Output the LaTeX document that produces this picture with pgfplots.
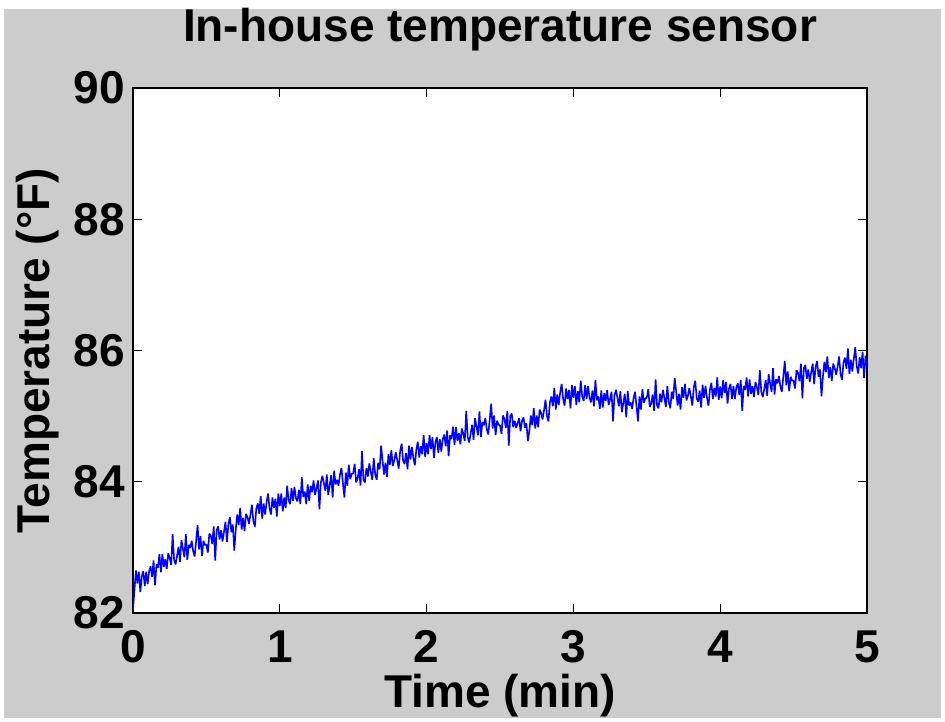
\documentclass[border=0pt]{standalone}
\usepackage{fontspec}
\setmainfont{Liberation Sans}
\usepackage{pgfplots}
\pgfplotsset{compat=1.18}
\definecolor{figgray}{RGB}{204,204,204}
\begin{document}
\begin{tikzpicture}
\fill[white] (-133pt,-109pt) rectangle (812pt,613pt);
\fill[figgray] (-129pt,-105pt) rectangle (808pt,604pt);
\begin{axis}[
  width=734pt, height=525pt, scale only axis,
  xmin=0, xmax=5, ymin=82, ymax=90,
  xtick={0,1,2,3,4,5}, ytick={82,84,86,88,90},
  tick align=inside, major tick length=9pt,
  tick style={black, line width=1pt},
  axis line style={black, line width=1.2pt},
  axis background/.style={fill=white},
  /pgf/number format/assume math mode=true,
  ticklabel style={font=\fontsize{46}{50}\selectfont\bfseries},
  xticklabel style={anchor=base, yshift=-50pt},
  yticklabel style={anchor=east, inner sep=0pt, xshift=-8pt},
  title={In-house temperature sensor},
  title style={at={(axis description cs:0.5,1)}, anchor=base, yshift=40pt, font=\fontsize{46}{50}\selectfont\bfseries},
  xlabel={Time (min)},
  xlabel style={at={(axis description cs:0.5,0)}, anchor=base, yshift=-95pt, font=\fontsize{46}{50}\selectfont\bfseries},
  ylabel={Temperature (°F)},
  ylabel style={at={(axis description cs:-0.1131,0.5)}, anchor=base, font=\fontsize{46}{50}\selectfont\bfseries},
]
\addplot[blue, line width=1.6pt, line join=miter, miter limit=2] coordinates {
(0.00,82.05) (0.01,82.35) (0.02,82.65) (0.03,82.45) (0.04,82.63) (0.05,82.32) (0.06,82.56) (0.07,82.64) (0.08,82.41) (0.09,82.63)
(0.10,82.44) (0.11,82.64) (0.12,82.71) (0.13,82.55) (0.14,82.80) (0.15,82.42) (0.16,82.74) (0.17,82.69) (0.18,82.90) (0.19,82.62)
(0.20,82.90) (0.21,82.70) (0.22,82.82) (0.23,82.67) (0.24,82.91) (0.25,82.84) (0.26,82.73) (0.27,83.20) (0.28,82.81) (0.29,82.74)
(0.30,82.87) (0.31,83.01) (0.32,82.78) (0.33,83.11) (0.34,82.98) (0.35,82.85) (0.36,83.20) (0.37,82.81) (0.38,83.04) (0.39,82.99)
(0.40,83.10) (0.41,82.94) (0.42,82.86) (0.43,83.10) (0.44,83.34) (0.45,82.97) (0.46,83.17) (0.47,82.87) (0.48,83.10) (0.49,83.04)
(0.50,83.04) (0.51,82.92) (0.52,83.21) (0.53,83.18) (0.54,83.05) (0.55,83.32) (0.56,82.80) (0.57,83.26) (0.58,83.32) (0.59,83.12)
(0.60,83.26) (0.61,83.09) (0.62,83.24) (0.63,83.39) (0.64,83.08) (0.65,83.36) (0.66,83.46) (0.67,83.23) (0.68,83.35) (0.69,82.95)
(0.70,83.27) (0.71,83.50) (0.72,83.34) (0.73,83.60) (0.74,83.27) (0.75,83.45) (0.76,83.25) (0.77,83.51) (0.78,83.46) (0.79,83.36)
(0.80,83.50) (0.81,83.65) (0.82,83.40) (0.83,83.31) (0.84,83.59) (0.85,83.67) (0.86,83.51) (0.87,83.78) (0.88,83.44) (0.89,83.67)
(0.90,83.50) (0.91,83.69) (0.92,83.82) (0.93,83.60) (0.94,83.50) (0.95,83.76) (0.96,83.60) (0.97,83.74) (0.98,83.47) (0.99,83.82)
(1.00,83.63) (1.01,83.82) (1.02,83.55) (1.03,83.76) (1.04,83.60) (1.05,83.94) (1.06,83.72) (1.07,83.66) (1.08,83.90) (1.09,83.71)
(1.10,83.92) (1.11,83.75) (1.12,83.70) (1.13,83.88) (1.14,83.66) (1.15,84.07) (1.16,83.77) (1.17,83.85) (1.18,83.66) (1.19,83.96)
(1.20,83.71) (1.21,83.94) (1.22,83.84) (1.23,84.02) (1.24,83.80) (1.25,83.90) (1.26,84.02) (1.27,83.58) (1.28,83.99) (1.29,84.09)
(1.30,83.98) (1.31,83.86) (1.32,84.11) (1.33,83.80) (1.34,83.95) (1.35,84.10) (1.36,83.76) (1.37,84.17) (1.38,83.96) (1.39,84.03)
(1.40,83.94) (1.41,84.11) (1.42,84.21) (1.43,83.98) (1.44,83.76) (1.45,84.14) (1.46,83.94) (1.47,84.26) (1.48,84.04) (1.49,84.12)
(1.50,84.13) (1.51,84.27) (1.52,83.99) (1.53,84.05) (1.54,84.19) (1.55,83.94) (1.56,84.47) (1.57,84.03) (1.58,83.99) (1.59,84.21)
(1.60,84.08) (1.61,84.28) (1.62,84.15) (1.63,84.03) (1.64,84.36) (1.65,84.11) (1.66,84.03) (1.67,84.29) (1.68,84.19) (1.69,84.55)
(1.70,84.32) (1.71,84.11) (1.72,84.29) (1.73,84.07) (1.74,84.42) (1.75,84.26) (1.76,84.48) (1.77,84.24) (1.78,84.33) (1.79,84.45)
(1.80,84.33) (1.81,84.20) (1.82,84.47) (1.83,84.58) (1.84,84.32) (1.85,84.27) (1.86,84.44) (1.87,84.19) (1.88,84.55) (1.89,84.34)
(1.90,84.53) (1.91,84.36) (1.92,84.25) (1.93,84.49) (1.94,84.61) (1.95,84.37) (1.96,84.54) (1.97,84.42) (1.98,84.71) (1.99,84.38)
(2.00,84.59) (2.01,84.42) (2.02,84.71) (2.03,84.50) (2.04,84.68) (2.05,84.36) (2.06,84.60) (2.07,84.68) (2.08,84.44) (2.09,84.65)
(2.10,84.46) (2.11,84.65) (2.12,84.72) (2.13,84.54) (2.14,84.78) (2.15,84.39) (2.16,84.71) (2.17,84.65) (2.18,84.84) (2.19,84.56)
(2.20,84.83) (2.21,84.62) (2.22,84.74) (2.23,84.57) (2.24,84.81) (2.25,84.73) (2.26,84.62) (2.27,85.08) (2.28,84.68) (2.29,84.60)
(2.30,84.73) (2.31,84.87) (2.32,84.64) (2.33,84.97) (2.34,84.84) (2.35,84.71) (2.36,85.07) (2.37,84.68) (2.38,84.91) (2.39,84.86)
(2.40,84.97) (2.41,84.80) (2.42,84.72) (2.43,84.95) (2.44,85.19) (2.45,84.81) (2.46,85.01) (2.47,84.71) (2.48,84.93) (2.49,84.87)
(2.50,84.86) (2.51,84.73) (2.52,85.01) (2.53,84.96) (2.54,84.82) (2.55,85.08) (2.56,84.55) (2.57,85.00) (2.58,85.04) (2.59,84.83)
(2.60,84.93) (2.61,84.82) (2.62,84.89) (2.63,84.97) (2.64,84.77) (2.65,84.93) (2.66,84.98) (2.67,84.82) (2.68,84.89) (2.69,84.62)
(2.70,84.78) (2.71,85.01) (2.72,84.86) (2.73,85.12) (2.74,84.81) (2.75,85.01) (2.76,84.83) (2.77,85.10) (2.78,85.05) (2.79,84.95)
(2.80,85.09) (2.81,85.25) (2.82,85.00) (2.83,84.92) (2.84,85.21) (2.85,85.30) (2.86,85.15) (2.87,85.43) (2.88,85.10) (2.89,85.33)
(2.90,85.17) (2.91,85.36) (2.92,85.49) (2.93,85.26) (2.94,85.16) (2.95,85.42) (2.96,85.26) (2.97,85.40) (2.98,85.12) (2.99,85.47)
(3.00,85.28) (3.01,85.46) (3.02,85.17) (3.03,85.38) (3.04,85.21) (3.05,85.54) (3.06,85.30) (3.07,85.23) (3.08,85.47) (3.09,85.26)
(3.10,85.46) (3.11,85.28) (3.12,85.21) (3.13,85.39) (3.14,85.15) (3.15,85.55) (3.16,85.24) (3.17,85.30) (3.18,85.11) (3.19,85.39)
(3.20,85.13) (3.21,85.35) (3.22,85.23) (3.23,85.40) (3.24,85.17) (3.25,85.26) (3.26,85.37) (3.27,84.92) (3.28,85.32) (3.29,85.40)
(3.30,85.28) (3.31,85.15) (3.32,85.38) (3.33,85.06) (3.34,85.20) (3.35,85.34) (3.36,84.98) (3.37,85.38) (3.38,85.16) (3.39,85.21)
(3.40,85.11) (3.41,85.28) (3.42,85.37) (3.43,85.15) (3.44,84.92) (3.45,85.30) (3.46,85.10) (3.47,85.41) (3.48,85.20) (3.49,85.27)
(3.50,85.28) (3.51,85.41) (3.52,85.14) (3.53,85.19) (3.54,85.33) (3.55,85.08) (3.56,85.56) (3.57,85.16) (3.58,85.12) (3.59,85.34)
(3.60,85.21) (3.61,85.40) (3.62,85.27) (3.63,85.14) (3.64,85.46) (3.65,85.21) (3.66,85.12) (3.67,85.37) (3.68,85.26) (3.69,85.58)
(3.70,85.38) (3.71,85.16) (3.72,85.34) (3.73,85.10) (3.74,85.44) (3.75,85.28) (3.76,85.49) (3.77,85.24) (3.78,85.31) (3.79,85.43)
(3.80,85.30) (3.81,85.16) (3.82,85.44) (3.83,85.54) (3.84,85.27) (3.85,85.22) (3.86,85.39) (3.87,85.13) (3.88,85.48) (3.89,85.28)
(3.90,85.46) (3.91,85.28) (3.92,85.16) (3.93,85.40) (3.94,85.51) (3.95,85.26) (3.96,85.43) (3.97,85.30) (3.98,85.59) (3.99,85.25)
(4.00,85.45) (4.01,85.27) (4.02,85.55) (4.03,85.35) (4.04,85.52) (4.05,85.19) (4.06,85.42) (4.07,85.49) (4.08,85.26) (4.09,85.46)
(4.10,85.26) (4.11,85.44) (4.12,85.50) (4.13,85.32) (4.14,85.55) (4.15,85.08) (4.16,85.46) (4.17,85.40) (4.18,85.59) (4.19,85.30)
(4.20,85.56) (4.21,85.34) (4.22,85.46) (4.23,85.29) (4.24,85.52) (4.25,85.44) (4.26,85.32) (4.27,85.70) (4.28,85.37) (4.29,85.29)
(4.30,85.41) (4.31,85.55) (4.32,85.31) (4.33,85.64) (4.34,85.50) (4.35,85.37) (4.36,85.73) (4.37,85.33) (4.38,85.56) (4.39,85.50)
(4.40,85.61) (4.41,85.45) (4.42,85.37) (4.43,85.60) (4.44,85.84) (4.45,85.47) (4.46,85.68) (4.47,85.38) (4.48,85.60) (4.49,85.54)
(4.50,85.54) (4.51,85.42) (4.52,85.70) (4.53,85.66) (4.54,85.53) (4.55,85.80) (4.56,85.27) (4.57,85.73) (4.58,85.78) (4.59,85.57)
(4.60,85.71) (4.61,85.52) (4.62,85.67) (4.63,85.80) (4.64,85.49) (4.65,85.75) (4.66,85.84) (4.67,85.60) (4.68,85.71) (4.69,85.30)
(4.70,85.61) (4.71,85.83) (4.72,85.67) (4.73,85.91) (4.74,85.58) (4.75,85.75) (4.76,85.54) (4.77,85.80) (4.78,85.73) (4.79,85.63)
(4.80,85.76) (4.81,85.91) (4.82,85.64) (4.83,85.55) (4.84,85.82) (4.85,85.89) (4.86,85.72) (4.87,86.03) (4.88,85.64) (4.89,85.86)
(4.90,85.68) (4.91,85.87) (4.92,86.05) (4.93,85.76) (4.94,85.65) (4.95,85.90) (4.96,85.73) (4.97,85.98) (4.98,85.58) (4.99,85.92)
(5.00,85.74)
};
\end{axis}
\pgfresetboundingbox
\path (-133pt,-109pt) rectangle (812pt,613pt);
\end{tikzpicture}
\end{document}
